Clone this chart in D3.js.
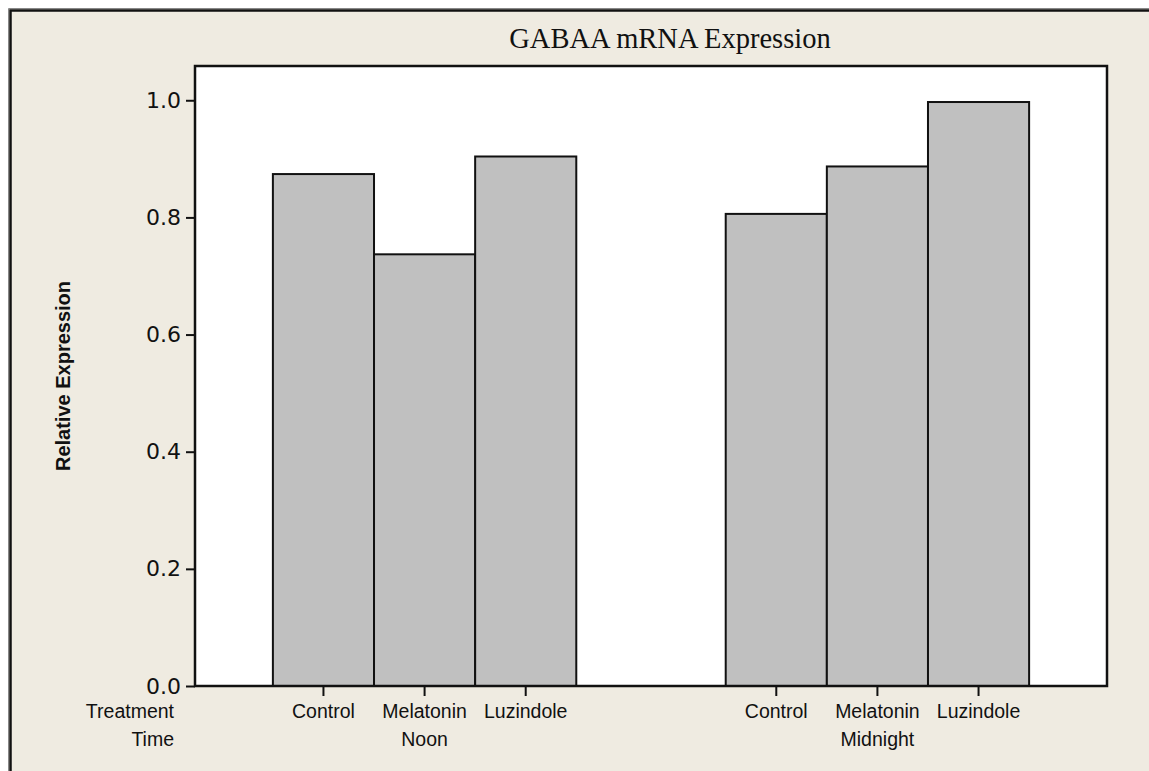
<!DOCTYPE html>
<html>
<head>
<meta charset="utf-8">
<script src="https://cdn.jsdelivr.net/npm/d3@7"></script>
<style>
  body { margin: 0; background: #fff; }
  svg { display: block; }
</style>
</head>
<body>
<svg id="chart"></svg>
<script>
// data
var groups = ["Noon", "Midnight"];
var treatments = ["Control", "Melatonin", "Luzindole"];
var noonValues = [0.874, 0.737, 0.904];
var midnightValues = [0.806, 0.887, 0.997];
var yTicks = [0.0, 0.2, 0.4, 0.6, 0.8, 1.0];

var width = 1149, height = 771;
var plotLeft = 195, plotRight = 1107, plotTop = 66, plotBottom = 686;

var rows = [];
groups.forEach(function(g, gi) {
    var vals = gi === 0 ? noonValues : midnightValues;
    treatments.forEach(function(t, ti) {
        rows.push({ group: g, treatment: t, value: vals[ti] });
    });
});

var svg = d3.select("#chart")
    .attr("width", width)
    .attr("height", height);

// beige page with double border on top/left
svg.append("rect")
    .attr("x", 9).attr("y", 9)
    .attr("width", width).attr("height", height)
    .attr("fill", "#efebe1");
svg.append("path")
    .attr("d", `M8.5,${height} V8.5 H${width}`)
    .attr("fill", "none").attr("stroke", "#888").attr("stroke-width", 1);
svg.append("path")
    .attr("d", `M10.5,${height} V10.5 H${width}`)
    .attr("fill", "none").attr("stroke", "#111").attr("stroke-width", 2.5);

var x0 = d3.scaleBand()
    .domain(groups)
    .range([plotLeft, plotRight])
    .paddingInner(0.33)
    .paddingOuter(0.172);

var x1 = d3.scaleBand()
    .domain(treatments)
    .range([0, x0.bandwidth()])
    .padding(0);

var y = d3.scaleLinear()
    .domain([0, 1.0585])
    .range([plotBottom, plotTop]);

// plot area with faint shadow
svg.append("rect")
    .attr("x", plotLeft + 1).attr("y", plotTop + 1)
    .attr("width", plotRight - plotLeft).attr("height", plotBottom - plotTop)
    .attr("fill", "#aaa");
svg.append("rect")
    .attr("x", plotLeft).attr("y", plotTop)
    .attr("width", plotRight - plotLeft).attr("height", plotBottom - plotTop)
    .attr("fill", "#fff");

// bars
svg.append("g")
    .selectAll("rect")
    .data(rows)
    .join("rect")
    .attr("x", d => x0(d.group) + x1(d.treatment))
    .attr("y", d => y(d.value))
    .attr("width", x1.bandwidth())
    .attr("height", d => y(0) - y(d.value))
    .attr("fill", "#c0c0c0")
    .attr("stroke", "#111")
    .attr("stroke-width", 2);

// frame
svg.append("rect")
    .attr("x", plotLeft).attr("y", plotTop)
    .attr("width", plotRight - plotLeft).attr("height", plotBottom - plotTop)
    .attr("fill", "none")
    .attr("stroke", "#111")
    .attr("stroke-width", 2.5);

// y axis
var yAxis = d3.axisLeft(y)
    .tickValues(yTicks)
    .tickFormat(d3.format(".1f"))
    .tickSize(9)
    .tickPadding(5);
var gy = svg.append("g")
    .attr("transform", `translate(${plotLeft},0)`)
    .call(yAxis);
gy.select(".domain").remove();
gy.selectAll(".tick line").attr("stroke", "#111").attr("stroke-width", 2);
gy.selectAll(".tick text")
    .attr("fill", "#111")
    .style("font-family", "'DejaVu Sans', sans-serif")
    .style("font-size", "22px");

// x ticks at bar centres
svg.append("g")
    .selectAll("line")
    .data(rows)
    .join("line")
    .attr("x1", d => x0(d.group) + x1(d.treatment) + x1.bandwidth() / 2)
    .attr("x2", d => x0(d.group) + x1(d.treatment) + x1.bandwidth() / 2)
    .attr("y1", plotBottom)
    .attr("y2", plotBottom + 10)
    .attr("stroke", "#111")
    .attr("stroke-width", 2);

var labelFont = "'Liberation Sans', Arial, sans-serif";

svg.append("g")
    .selectAll("text")
    .data(rows)
    .join("text")
    .attr("x", d => x0(d.group) + x1(d.treatment) + x1.bandwidth() / 2)
    .attr("y", 718)
    .attr("text-anchor", "middle")
    .attr("fill", "#111")
    .style("font-family", labelFont)
    .style("font-size", "19.5px")
    .text(d => d.treatment);

svg.append("g")
    .selectAll("text")
    .data(groups)
    .join("text")
    .attr("x", d => x0(d) + x1("Melatonin") + x1.bandwidth() / 2)
    .attr("y", 746)
    .attr("text-anchor", "middle")
    .attr("fill", "#111")
    .style("font-family", labelFont)
    .style("font-size", "19.5px")
    .text(d => d);

svg.append("text")
    .attr("x", 174).attr("y", 718)
    .attr("text-anchor", "end")
    .attr("fill", "#111")
    .style("font-family", labelFont)
    .style("font-size", "19.5px")
    .text("Treatment");
svg.append("text")
    .attr("x", 174).attr("y", 746)
    .attr("text-anchor", "end")
    .attr("fill", "#111")
    .style("font-family", labelFont)
    .style("font-size", "19.5px")
    .text("Time");

// y axis title
svg.append("text")
    .attr("transform", `translate(70,${(plotTop + plotBottom) / 2}) rotate(-90)`)
    .attr("text-anchor", "middle")
    .attr("fill", "#111")
    .style("font-family", labelFont)
    .style("font-weight", "bold")
    .style("font-size", "20px")
    .text("Relative Expression");

// chart title
svg.append("text")
    .attr("x", 670).attr("y", 48)
    .attr("text-anchor", "middle")
    .attr("fill", "#111")
    .style("font-family", "'Liberation Serif', 'Times New Roman', serif")
    .style("font-size", "28.5px")
    .text("GABAA mRNA Expression");
</script>
</body>
</html>
